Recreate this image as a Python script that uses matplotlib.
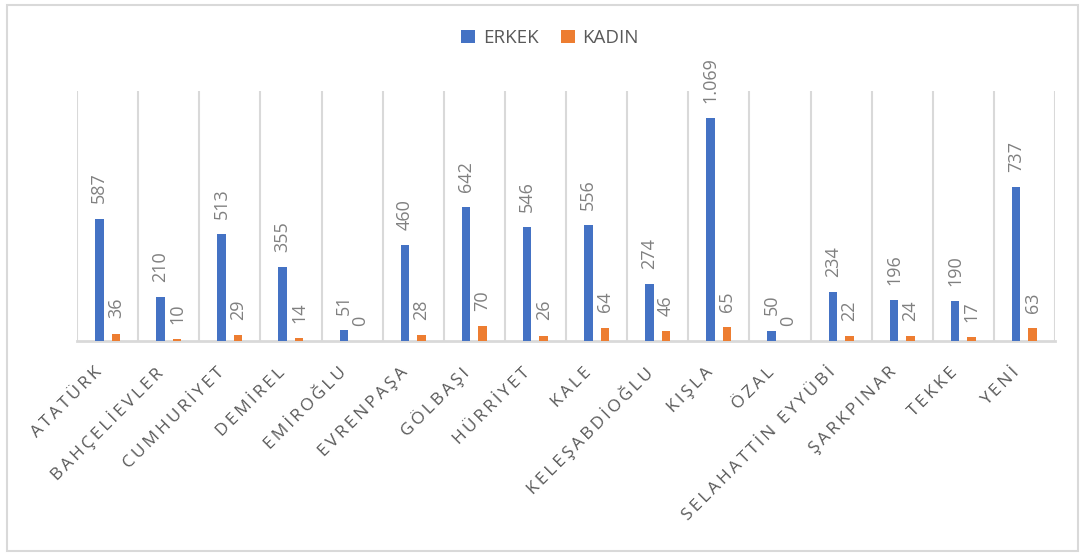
import matplotlib
matplotlib.use("Agg")
import matplotlib.pyplot as plt
import matplotlib.transforms as mtransforms
from matplotlib.patches import Rectangle, Patch
import numpy as np

categories = ['ATATÜRK', 'BAHÇELİEVLER', 'CUMHURİYET', 'DEMİREL', 'EMİROĞLU',
              'EVRENPAŞA', 'GÖLBAŞI', 'HÜRRİYET', 'KALE', 'KELEŞABDİOĞLU',
              'KIŞLA', 'ÖZAL', 'SELAHATTİN EYYÜBİ', 'ŞARKPINAR', 'TEKKE', 'YENİ']
erkek = [587, 210, 513, 355, 51, 460, 642, 546, 556, 274, 1069, 50, 234, 196, 190, 737]
kadin = [36, 10, 29, 14, 0, 28, 70, 26, 64, 46, 65, 0, 22, 24, 17, 63]
series_names = ['ERKEK', 'KADIN']

BLUE = '#4472C4'
ORANGE = '#ED7D31'
GRID = '#D9D9D9'
TXT = '#595959'
LBL = '#808080'
FONT = ['Open Sans', 'DejaVu Sans']

plt.rcParams['font.family'] = FONT

fig = plt.figure(figsize=(10.85, 5.56), dpi=100)
fig.patch.set_facecolor('white')
# outer chart border
fig.patches.append(Rectangle((7 / 1085, 5 / 556), 1071 / 1085, 546 / 556,
                             transform=fig.transFigure, fill=False,
                             edgecolor=GRID, linewidth=1.5))

ax = fig.add_axes([77 / 1085, 1 - 341 / 556, (1055 - 77) / 1085, (341 - 91) / 556])
x = np.arange(len(categories))
w = 0.14
off = 0.135
ax.bar(x - off, erkek, width=w, color=BLUE, zorder=3)
ax.bar(x + off, kadin, width=w, color=ORANGE, zorder=3)

ax.set_xlim(-0.5, len(categories) - 0.5)
ax.set_ylim(0, 1200)
ax.set_yticks([])

# vertical gridlines at category boundaries
ax.set_xticks(np.arange(-0.5, len(categories)), minor=True)
ax.grid(which='minor', axis='x', color=GRID, linewidth=1.5, zorder=0)
ax.tick_params(axis='x', which='minor', length=0)

for s in ['top', 'right', 'left']:
    ax.spines[s].set_visible(False)
ax.spines['bottom'].set_color(GRID)
ax.spines['bottom'].set_linewidth(2)

def fmt(v):
    return f"{v:,}".replace(',', '.')

for xi, v in zip(x, erkek):
    ax.annotate(fmt(v), (xi - off, v), xytext=(0, 11), textcoords='offset points',
                rotation=90, ha='center', va='bottom', color=LBL, fontsize=13,
                zorder=4)
for xi, v in zip(x, kadin):
    ax.annotate(fmt(v), (xi + off, v), xytext=(0, 11), textcoords='offset points',
                rotation=90, ha='center', va='bottom', color=LBL, fontsize=13,
                zorder=4)

ax.set_xticks(x)
ax.set_xticklabels(['\u2009'.join(list(c)) for c in categories], rotation=45,
                   ha='right', va='center', rotation_mode='anchor',
                   fontsize=12.5, color=TXT)
ax.tick_params(axis='x', which='major', length=0, pad=21)
shift = mtransforms.ScaledTranslation(-8 / 100, 0, fig.dpi_scale_trans)
for lab in ax.get_xticklabels():
    lab.set_transform(lab.get_transform() + shift)

handles = [Patch(facecolor=BLUE), Patch(facecolor=ORANGE)]
fig.legend(handles, series_names, loc='center', bbox_to_anchor=(550 / 1085, 1 - 38 / 556),
           ncol=2, frameon=False, fontsize=13.5, labelcolor=TXT,
           handlelength=0.75, handleheight=0.75, handletextpad=0.4, columnspacing=1.2)

fig.savefig('out.png', dpi=100, facecolor='white')
